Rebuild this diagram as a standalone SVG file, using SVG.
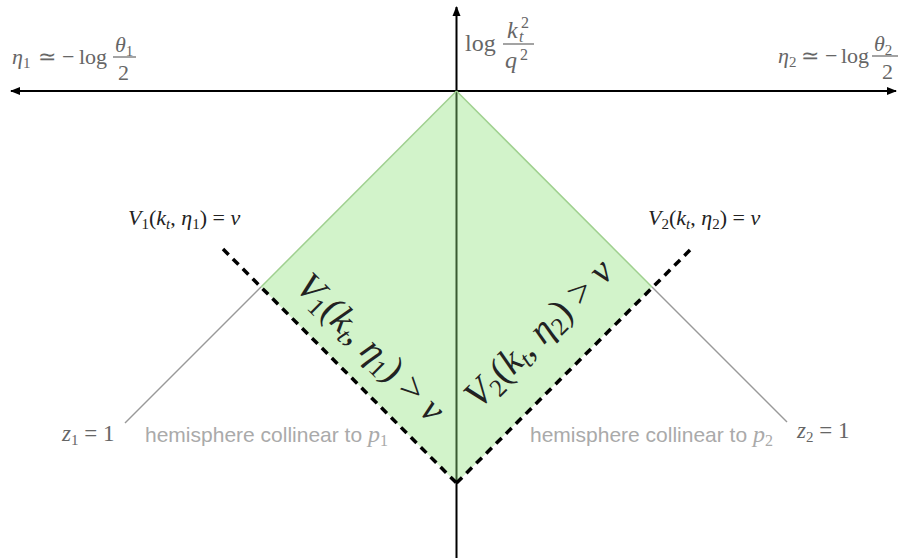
<svg xmlns="http://www.w3.org/2000/svg" width="899" height="560" viewBox="0 0 899 560">
<defs>
<marker id="arr" viewBox="0 0 10 10" refX="9" refY="5" markerWidth="10" markerHeight="10" markerUnits="userSpaceOnUse" orient="auto">
<path d="M0,1 L10,5 L0,9 Z" fill="#000"/>
</marker>
<style>
.m{font-family:"Liberation Serif","Times New Roman",serif;}
.i{font-style:italic;}
.g1{fill:#666;}
.dk{fill:#222;}
.hem{font-family:"Liberation Sans",Arial,sans-serif;font-size:21px;fill:#aaa;}
.axis{stroke:#000;stroke-width:2;fill:none;}
.dash{stroke:#000;stroke-width:3.5;stroke-dasharray:8 6;fill:none;}
.grey{stroke:#999;stroke-width:1.5;fill:none;}
.edge{stroke:#9fd08f;stroke-width:1.5;fill:none;}
.bar{stroke:#666;stroke-width:1.2;}
</style>
</defs>
<rect width="899" height="560" fill="#fff"/>
<g id="axes">
<line class="axis" x1="456.5" y1="91" x2="11" y2="91" marker-end="url(#arr)"/>
<line class="axis" x1="456.5" y1="91" x2="896" y2="91" marker-end="url(#arr)"/>
<line class="axis" x1="456.5" y1="558" x2="456.5" y2="7" marker-end="url(#arr)"/>
</g>
<g id="region">
<path d="M456.5,91 L652,287 L456.5,483 L261,287 Z" fill="#8ee07a" fill-opacity="0.4"/>
</g>
<g id="connectors">
<line class="edge" x1="456.5" y1="91" x2="261" y2="287"/>
<line class="edge" x1="456.5" y1="91" x2="652" y2="287"/>
<line class="grey" x1="261" y1="287" x2="125" y2="423"/>
<line class="grey" x1="652" y1="287" x2="787" y2="422"/>
<line class="dash" x1="223" y1="249" x2="456.5" y2="483"/>
<line class="dash" x1="690" y1="250" x2="456.5" y2="483"/>
</g>
<g id="eta1-label" class="m g1" font-size="22">
<text x="12" y="64"><tspan class="i">η</tspan><tspan font-size="15" dy="4">1</tspan></text>
<text x="38" y="64">≃</text>
<text x="62" y="64">−</text>
<text x="79" y="64">log</text>
<text x="115" y="52"><tspan class="i">θ</tspan><tspan font-size="15" dy="4">1</tspan></text>
<line class="bar" x1="113" y1="57" x2="136" y2="57"/>
<text x="118" y="80">2</text>
</g>
<g id="eta2-label" class="m g1" font-size="22">
<text x="778" y="63"><tspan class="i">η</tspan><tspan font-size="15" dy="4">2</tspan></text>
<text x="801" y="63">≃</text>
<text x="825" y="63">−</text>
<text x="841" y="63">log</text>
<text x="874" y="51"><tspan class="i">θ</tspan><tspan font-size="15" dy="4">2</tspan></text>
<line class="bar" x1="872" y1="56" x2="898" y2="56"/>
<text x="882" y="79">2</text>
</g>
<g id="y-axis-label" class="m g1" font-size="24">
<text x="465" y="51">log</text>
<text x="507" y="38"><tspan class="i">k</tspan></text>
<text x="519" y="42" font-size="16" class="i">t</text>
<text x="521" y="28" font-size="16">2</text>
<line class="bar" x1="503" y1="44" x2="534" y2="44"/>
<text x="505" y="68" class="i">q</text>
<text x="520" y="60" font-size="16">2</text>
</g>
<g id="V1-eq" class="m dk" font-size="22">
<text x="128" y="225"><tspan class="i">V</tspan><tspan font-size="15" dy="4">1</tspan><tspan dy="-4">(</tspan><tspan class="i">k</tspan><tspan class="i" font-size="15" dy="4">t</tspan><tspan dy="-4">, </tspan><tspan class="i">η</tspan><tspan font-size="15" dy="4">1</tspan><tspan dy="-4">) = </tspan><tspan class="i">v</tspan></text>
</g>
<g id="V2-eq" class="m dk" font-size="22">
<text x="648" y="225"><tspan class="i">V</tspan><tspan font-size="15" dy="4">2</tspan><tspan dy="-4">(</tspan><tspan class="i">k</tspan><tspan class="i" font-size="15" dy="4">t</tspan><tspan dy="-4">, </tspan><tspan class="i">η</tspan><tspan font-size="15" dy="4">2</tspan><tspan dy="-4">) = </tspan><tspan class="i">v</tspan></text>
</g>
<g id="V1-region" class="m dk" font-size="38">
<text transform="translate(362,356) rotate(45)" text-anchor="middle"><tspan class="i">V</tspan><tspan font-size="25" dy="6">1</tspan><tspan dy="-6">(</tspan><tspan class="i">k</tspan><tspan class="i" font-size="25" dy="6">t</tspan><tspan dy="-6">, </tspan><tspan class="i">η</tspan><tspan font-size="25" dy="6">1</tspan><tspan dy="-6">) &gt; </tspan><tspan class="i">v</tspan></text>
</g>
<g id="V2-region" class="m dk" font-size="38">
<text transform="translate(547,342) rotate(-45)" text-anchor="middle"><tspan class="i">V</tspan><tspan font-size="25" dy="6">2</tspan><tspan dy="-6">(</tspan><tspan class="i">k</tspan><tspan class="i" font-size="25" dy="6">t</tspan><tspan dy="-6">, </tspan><tspan class="i">η</tspan><tspan font-size="25" dy="6">2</tspan><tspan dy="-6">) &gt; </tspan><tspan class="i">v</tspan></text>
</g>
<g id="z1-label" class="m g1" font-size="23">
<text x="62" y="441"><tspan class="i">z</tspan><tspan font-size="15" dy="4">1</tspan><tspan dy="-4"> = 1</tspan></text>
</g>
<g id="z2-label" class="m g1" font-size="23">
<text x="797" y="438"><tspan class="i">z</tspan><tspan font-size="15" dy="4">2</tspan><tspan dy="-4"> = 1</tspan></text>
</g>
<g id="hemi1">
<text class="hem" x="145" y="442">hemisphere collinear to <tspan class="m i" font-size="24">p</tspan><tspan class="m" font-size="16" dy="4">1</tspan></text>
</g>
<g id="hemi2">
<text class="hem" x="530" y="442">hemisphere collinear to <tspan class="m i" font-size="24">p</tspan><tspan class="m" font-size="16" dy="4">2</tspan></text>
</g>
</svg>
